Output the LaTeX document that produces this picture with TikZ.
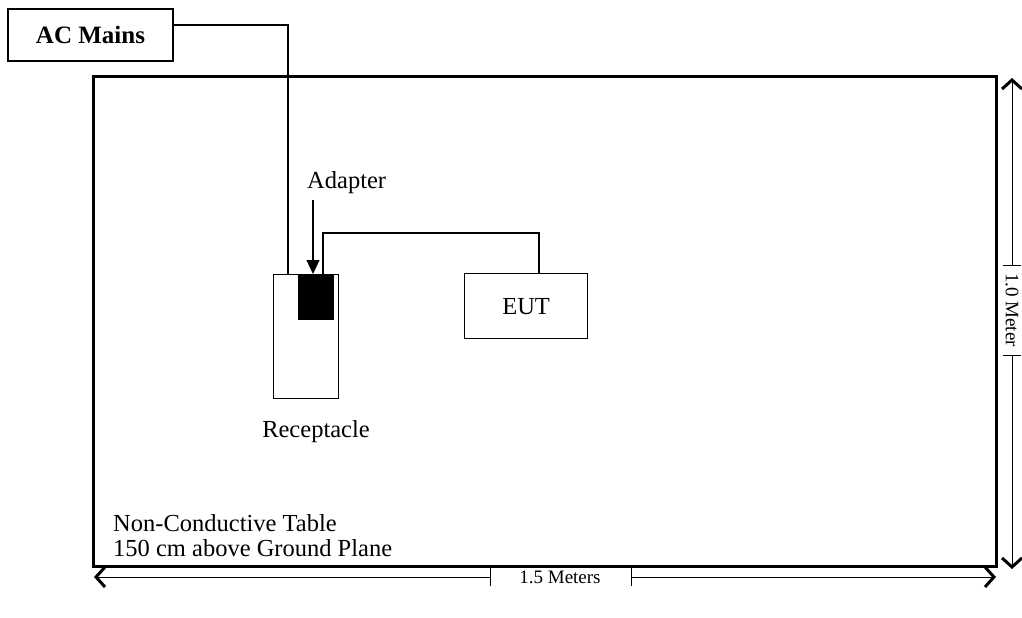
\documentclass[tikz,border=0pt]{standalone}
\usepackage{fontspec}
\setmainfont{Liberation Serif}
\usetikzlibrary{arrows.meta}
\begin{document}
\begin{tikzpicture}[x=1pt,y=-1pt,
  thinline/.style={line width=1.2pt},
  dimarrow/.style={line width=1pt,{Straight Barb[length=9pt,width=20pt,line width=3pt]}-},
  lbl/.style={inner sep=0pt,font=\fontsize{24.5}{26}\selectfont},
  dimlbl/.style={inner sep=0pt,font=\fontsize{19}{21}\selectfont}]
\useasboundingbox (0,0) rectangle (1022,618);
% table
\draw[line width=3pt] (93,76) rectangle (996,566);
% AC mains
\node[draw,thinline,minimum width=165pt,minimum height=52pt,inner sep=0pt,
      font=\fontsize{25}{27}\selectfont\bfseries] (ac) at (90.5,35) {AC Mains};
% receptacle
\node[draw,thinline,minimum width=65pt,minimum height=124pt,inner sep=0pt,anchor=north west] (rec) at (273,274) {};
\node[fill=black,minimum width=36pt,minimum height=46pt,inner sep=0pt,anchor=north west] (adp) at (298,274) {};
\node[lbl,anchor=west] (adlbl) at (307,183) {Adapter};
\coordinate (adtop) at (313,200);
\draw[thinline,-{Triangle[length=14pt,width=13pt]}] (adtop) -- (adp.north -| adtop);
\node[lbl] (reclbl) at (316,432) {Receptacle};
% EUT
\node[draw,thinline,minimum width=123pt,minimum height=65pt,inner sep=0pt,anchor=north west,
      font=\fontsize{24.5}{26}\selectfont] (eut) at (464,273) {EUT};
% cables
\coordinate (acc) at (288,25);
\draw[thinline] (ac.east |- acc) -- (acc) -- (acc |- rec.north);
\coordinate (c1) at (323,233);
\coordinate (c2) at (539,233);
\draw[thinline] (c1 |- adp.north) -- (c1) -- (c2) -- (c2 |- eut.north);
% table text
\node[lbl,anchor=west] (t1) at (113,523) {Non-Conductive Table};
\node[lbl,anchor=west] (t2) at (113,548) {150 cm above Ground Plane};
% horizontal dimension
\node[dimlbl] (hlbl) at (560,577) {1.5 Meters};
\coordinate (hl) at (94,577);
\coordinate (hr) at (996,577);
\coordinate (ht1) at (490,577);
\coordinate (ht2) at (631,577);
\draw[dimarrow] (hl) -- (ht1);
\draw[dimarrow] (hr) -- (ht2);
\draw[line width=1pt] ([yshift=-9pt]ht1) -- ([yshift=9pt]ht1);
\draw[line width=1pt] ([yshift=-9pt]ht2) -- ([yshift=9pt]ht2);
% vertical dimension
\node[dimlbl,rotate=-90] (vlbl) at (1012,310) {1.0 Meter};
\coordinate (vt) at (1012,78);
\coordinate (vb) at (1012,569);
\coordinate (vt1) at (1012,265);
\coordinate (vt2) at (1012,355);
\draw[dimarrow] (vt) -- (vt1);
\draw[dimarrow] (vb) -- (vt2);
\draw[line width=1pt] ([xshift=-9pt]vt1) -- ([xshift=9pt]vt1);
\draw[line width=1pt] ([xshift=-9pt]vt2) -- ([xshift=9pt]vt2);
\end{tikzpicture}
\end{document}
